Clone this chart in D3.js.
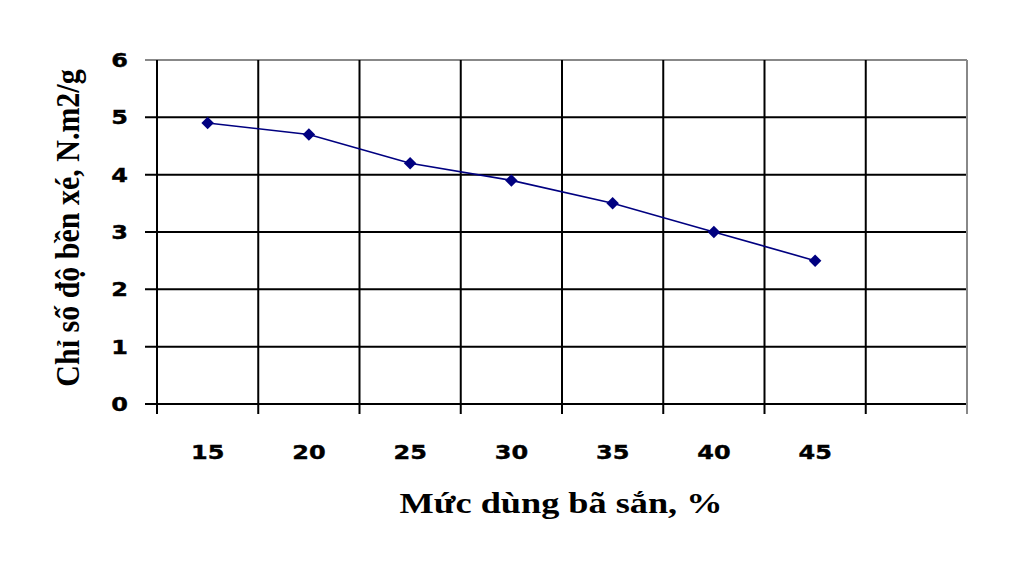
<!DOCTYPE html>
<html><head><meta charset="utf-8">
<script src="https://cdn.jsdelivr.net/npm/d3@7"></script>
<style>body{margin:0;background:#fff}svg{display:block}</style>
</head><body>
<svg id="c" width="1024" height="576"></svg>
<script>
const categories = ["15","20","25","30","35","40","45",""];
const values = [4.9, 4.7, 4.2, 3.9, 3.5, 3.0, 2.5];
const yTicks = [0,1,2,3,4,5,6];
const xTitle = "Mức dùng bã sắn, %";
const yTitle = "Chỉ số độ bền xé, N.m2/g";

const svg = d3.select("#c");
const L = 157, R = 967, T = 60, B = 404;
const x = d3.scaleBand().domain(categories.map((d,i)=>i)).range([L,R]);
const y = d3.scaleLinear().domain([0,6]).range([B,T]);
const SX = 1.2;

// horizontal gridlines
svg.append("g").selectAll("line").data(yTicks).join("line")
  .attr("x1", 145).attr("x2", R)
  .attr("y1", d=>y(d)).attr("y2", d=>y(d))
  .attr("stroke", d=> d===6 ? "#888" : "#000")
  .attr("stroke-width", 2);
// vertical gridlines (band boundaries)
const bounds = categories.map((d,i)=>x(i)).concat([R]);
svg.append("g").selectAll("line").data(bounds).join("line")
  .attr("x1", d=>d).attr("x2", d=>d)
  .attr("y1", T).attr("y2", 414)
  .attr("stroke", (d,i)=> i===bounds.length-1 ? "#888" : "#000")
  .attr("stroke-width", 2);

// y tick labels
svg.append("g").selectAll("text").data(yTicks).join("text")
  .attr("transform", d=>`translate(128,${y(d)+7}) scale(${SX},1)`)
  .attr("text-anchor","end")
  .attr("font-family","DejaVu Sans, Verdana, sans-serif")
  .attr("font-weight","bold").attr("font-size",20).attr("fill","#000")
  .attr("stroke","#000").attr("stroke-width",0.4)
  .text(d=>d);

// x tick labels
svg.append("g").selectAll("text").data(categories).join("text")
  .attr("transform", (d,i)=>`translate(${x(i)+x.bandwidth()/2},459) scale(${SX},1)`)
  .attr("text-anchor","middle")
  .attr("font-family","DejaVu Sans, Verdana, sans-serif")
  .attr("font-weight","bold").attr("font-size",20).attr("fill","#000")
  .attr("stroke","#000").attr("stroke-width",0.4)
  .text(d=>d);

// line
const pts = values.map((v,i)=>[x(i)+x.bandwidth()/2, y(v)]);
svg.append("path").datum(pts)
  .attr("d", d3.line())
  .attr("fill","none").attr("stroke","#000080").attr("stroke-width",1.6);
svg.append("g").selectAll("path").data(pts).join("path")
  .attr("d", d3.symbol(d3.symbolSquare, 78))
  .attr("transform", d=>`translate(${d[0]},${d[1]}) rotate(45)`)
  .attr("fill","#000080");

// titles
svg.append("text")
  .attr("transform", `translate(561,513) scale(1.25,1)`)
  .attr("text-anchor","middle")
  .attr("font-family","Liberation Serif, Times New Roman, serif")
  .attr("font-weight","bold").attr("font-size",29).attr("fill","#000")
  .text(xTitle);
svg.append("text")
  .attr("transform", `translate(79,228) scale(1.1,1) rotate(-90)`)
  .attr("text-anchor","middle")
  .attr("font-family","Liberation Serif, Times New Roman, serif")
  .attr("font-weight","bold").attr("font-size",30).attr("fill","#000")
  .text(yTitle);
</script>
</body></html>
